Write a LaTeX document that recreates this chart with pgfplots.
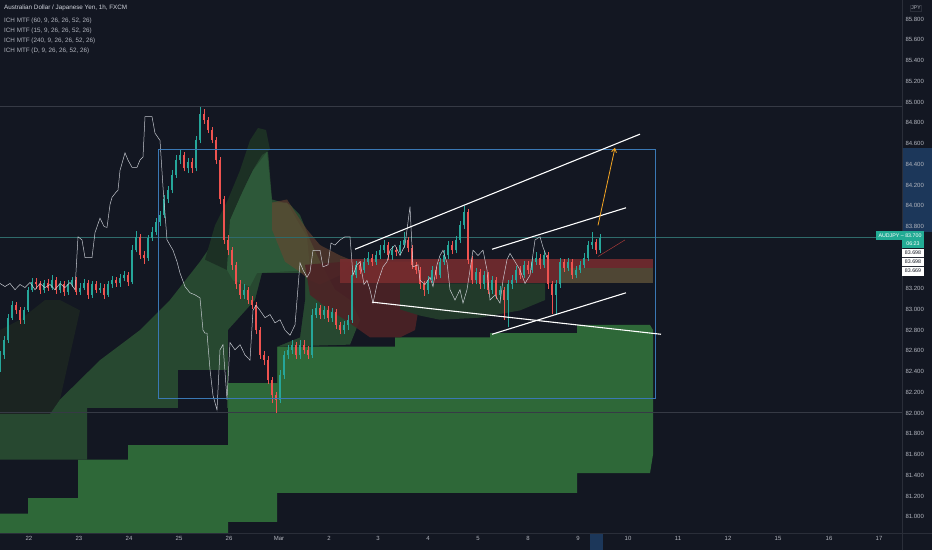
\documentclass[border=0pt]{standalone}
\usepackage{pgfplots}
\pgfplotsset{compat=1.18}
\usepackage{pgfplotstable}
\usepackage{fontspec}
\setmainfont{Liberation Sans}
\usetikzlibrary{arrows.meta}

\definecolor{bgc}{RGB}{19,23,34}
\definecolor{sepc}{RGB}{42,46,57}
\definecolor{labc}{RGB}{178,181,190}
\definecolor{txtc}{RGB}{209,212,220}
\definecolor{upc}{RGB}{38,166,154}
\definecolor{dnc}{RGB}{239,83,80}
\definecolor{gridc}{RGB}{54,58,69}
\definecolor{wline}{RGB}{215,218,225}
\definecolor{rectc}{RGB}{58,120,180}
\definecolor{orc}{RGB}{245,166,35}
\definecolor{hlc}{RGB}{28,55,90}
\definecolor{boxg}{RGB}{34,171,148}
\definecolor{gbright}{RGB}{46,104,56}
\definecolor{gmed}{RGB}{39,72,48}
\definecolor{glight}{RGB}{45,88,57}
\definecolor{gdark}{RGB}{28,48,36}
\definecolor{gleft}{RGB}{27,36,33}
\definecolor{brownc}{RGB}{106,69,48}
\definecolor{redblob}{RGB}{77,35,38}
\definecolor{redband}{RGB}{122,45,47}
\definecolor{gband}{RGB}{61,90,58}
\definecolor{gunder}{RGB}{34,58,42}

% up candles: x open high low close
\pgfplotstableread{
x o h l c
0 82.45 82.60 82.40 82.56
4 82.56 82.74 82.52 82.70
8 82.70 82.96 82.68 82.92
12 82.92 83.08 82.90 83.04
24 82.90 83.02 82.86 82.99
28 82.99 83.22 82.97 83.19
32 83.19 83.30 83.17 83.26
44 83.19 83.28 83.16 83.25
52 83.21 83.33 83.19 83.28
60 83.19 83.27 83.16 83.24
68 83.17 83.28 83.14 83.24
72 83.24 83.31 83.22 83.28
80 83.17 83.25 83.14 83.21
84 83.21 83.29 83.19 83.25
92 83.14 83.27 83.11 83.24
100 83.19 83.25 83.16 83.21
108 83.14 83.27 83.12 83.24
112 83.24 83.32 83.21 83.28
120 83.25 83.34 83.22 83.30
124 83.30 83.37 83.27 83.33
132 83.26 83.62 83.24 83.57
136 83.57 83.76 83.55 83.70
148 83.50 83.72 83.47 83.69
152 83.69 83.79 83.66 83.75
156 83.75 83.88 83.72 83.84
160 83.84 83.95 83.80 83.91
164 83.91 84.10 83.88 84.06
168 84.06 84.19 84.03 84.15
172 84.15 84.34 84.12 84.30
176 84.30 84.49 84.27 84.44
180 84.44 84.54 84.40 84.49
188 84.36 84.46 84.32 84.42
196 84.36 84.67 84.33 84.63
200 84.63 84.95 84.60 84.88
244 83.14 83.24 83.10 83.19
280 82.13 82.42 82.10 82.37
284 82.37 82.60 82.33 82.56
288 82.56 82.66 82.52 82.61
292 82.61 82.70 82.57 82.66
300 82.56 82.70 82.52 82.66
312 82.56 83.00 82.53 82.95
316 82.95 83.06 82.92 83.01
324 82.95 83.03 82.91 82.99
332 82.92 83.01 82.88 82.97
344 82.80 82.89 82.76 82.85
348 82.85 82.95 82.80 82.90
352 82.90 83.38 82.87 83.33
356 83.33 83.47 83.30 83.43
364 83.38 83.50 83.35 83.46
368 83.46 83.55 83.43 83.50
376 83.46 83.56 83.43 83.52
380 83.52 83.62 83.49 83.57
384 83.57 83.67 83.54 83.62
392 83.52 83.61 83.48 83.57
400 83.55 83.66 83.52 83.62
404 83.62 83.75 83.59 83.67
428 83.19 83.32 83.15 83.28
432 83.28 83.42 83.25 83.38
440 83.33 83.50 83.30 83.46
444 83.46 83.57 83.43 83.52
448 83.52 83.66 83.49 83.62
456 83.57 83.71 83.54 83.67
460 83.67 83.85 83.64 83.81
464 83.81 84.00 83.78 83.94
476 83.28 83.40 83.24 83.36
484 83.24 83.37 83.20 83.33
492 83.19 83.32 83.15 83.28
500 83.14 83.23 83.10 83.19
508 83.09 83.28 82.83 83.24
512 83.24 83.33 83.20 83.28
516 83.28 83.42 83.25 83.38
524 83.33 83.47 83.30 83.43
532 83.38 83.50 83.35 83.46
536 83.46 83.55 83.43 83.50
544 83.43 83.56 83.40 83.52
556 83.14 83.28 82.96 83.24
560 83.24 83.50 83.21 83.46
568 83.40 83.50 83.37 83.46
576 83.33 83.42 83.30 83.38
580 83.38 83.47 83.35 83.43
584 83.43 83.54 83.40 83.50
588 83.50 83.66 83.47 83.62
592 83.62 83.75 83.58 83.65
600 83.57 83.73 83.54 83.69
}\upcandles

% down candles: x open high low close
\pgfplotstableread{
x o h l c
16 83.04 83.07 82.96 82.99
20 82.99 83.02 82.86 82.90
36 83.26 83.30 83.20 83.24
40 83.24 83.27 83.15 83.19
48 83.25 83.29 83.18 83.21
56 83.28 83.31 83.15 83.19
64 83.24 83.27 83.13 83.17
76 83.28 83.31 83.14 83.17
88 83.25 83.28 83.10 83.14
96 83.24 83.27 83.16 83.19
104 83.21 83.24 83.10 83.14
116 83.28 83.31 83.22 83.25
128 83.33 83.36 83.23 83.26
140 83.70 83.73 83.49 83.52
144 83.52 83.56 83.44 83.50
184 84.49 84.52 84.33 84.36
192 84.42 84.46 84.32 84.36
204 84.88 84.93 84.79 84.83
208 84.83 84.86 84.70 84.73
212 84.73 84.76 84.60 84.63
216 84.63 84.66 84.40 84.44
220 84.44 84.47 84.02 84.06
224 84.06 84.09 83.63 83.67
228 83.67 83.72 83.52 83.57
232 83.57 83.60 83.38 83.43
236 83.43 83.46 83.20 83.24
240 83.24 83.28 83.10 83.14
248 83.19 83.22 83.05 83.09
252 83.09 83.13 83.00 83.04
256 83.04 83.07 82.76 82.80
260 82.80 82.83 82.52 82.56
264 82.56 82.60 82.46 82.51
268 82.51 82.55 82.28 82.32
272 82.32 82.35 82.10 82.17
276 82.17 82.20 82.00 82.13
296 82.66 82.69 82.52 82.56
304 82.66 82.70 82.57 82.61
308 82.61 82.65 82.52 82.56
320 83.01 83.04 82.91 82.95
328 82.99 83.03 82.88 82.92
336 82.97 83.00 82.81 82.85
340 82.85 82.88 82.76 82.80
360 83.43 83.47 83.34 83.38
372 83.50 83.53 83.42 83.46
388 83.62 83.65 83.48 83.52
396 83.57 83.60 83.51 83.55
408 83.67 83.70 83.55 83.59
412 83.59 83.62 83.39 83.43
416 83.43 83.46 83.34 83.38
420 83.38 83.41 83.20 83.24
424 83.24 83.27 83.13 83.19
436 83.38 83.41 83.29 83.33
452 83.62 83.66 83.53 83.57
468 83.94 83.97 83.44 83.48
472 83.48 83.51 83.24 83.28
480 83.36 83.39 83.20 83.24
488 83.33 83.36 83.15 83.19
496 83.28 83.31 83.10 83.14
504 83.19 83.22 82.90 83.09
520 83.38 83.42 83.29 83.33
528 83.43 83.47 83.34 83.38
540 83.50 83.53 83.39 83.43
548 83.52 83.55 83.20 83.24
552 83.24 83.27 82.96 83.14
564 83.46 83.49 83.36 83.40
572 83.46 83.49 83.29 83.33
596 83.65 83.68 83.53 83.57
}\dncandles

\begin{document}
\begin{tikzpicture}
\fill[bgc] (0pt,-17pt) rectangle (932pt,533pt);
\fill[hlc] (902pt,301pt) rectangle (932pt,385pt);
\fill[hlc] (590pt,-17pt) rectangle (603pt,0pt);

\begin{axis}[
  at={(0pt,0pt)}, anchor=south west,
  width=902pt, height=533pt, scale only axis,
  xmin=0, xmax=902, ymin=80.843, ymax=85.984,
  axis line style={draw=none},
  tick style={draw=none},
  major tick length=0pt,
  ytick pos=right, yticklabel pos=right,
  xtick={29,79,129,179,229,279,329,378,428,478,528,578,628,678,728,778,829,879},
  xticklabels={22,23,24,25,26,Mar,2,3,4,5,8,9,10,11,12,15,16,17},
  ytick={81.0,81.2,81.4,81.6,81.8,82.0,82.2,82.4,82.6,82.8,83.0,83.2,83.8,84.0,84.2,84.4,84.6,84.8,85.0,85.2,85.4,85.6,85.8},
  yticklabel style={/pgf/number format/.cd, fixed, fixed zerofill, precision=3},
  /pgf/number format/assume math mode=true,
  tick label style={font=\fontsize{6}{7}\selectfont, text=labc},
  clip=true,
]
% faint left cloud
\addplot[forget plot, fill=gleft, draw=none] coordinates {
 (0,82.80)(20,82.90)(45,83.09)(60,83.09)(80,82.99)(60,82.13)(50,81.99)(0,81.99)};
% daily cloud (bright green)
\addplot[forget plot, fill=gbright, draw=none] coordinates {
 (0,81.03)(28,81.03)(28,81.18)(78,81.18)(78,81.55)(128,81.55)(128,81.69)(228,81.69)
 (228,82.29)(277,82.29)(277,82.64)(395,82.64)(395,82.73)(490,82.73)(490,82.77)
 (577,82.77)(577,82.85)(650,82.85)(653,82.80)(653,81.60)(650,81.42)(577,81.42)
 (577,81.23)(277,81.23)(277,80.95)(228,80.95)(228,80.84)(0,80.84)};
% medium green cloud
\addplot[forget plot, fill=gmed, draw=none] coordinates {
 (0,81.99)(50,81.99)(60,82.13)(100,82.51)(140,82.80)(170,83.09)(200,83.46)
 (225,83.81)(240,84.10)(255,84.39)(262,84.54)(268,84.52)(272,84.06)(290,84.01)
 (300,83.91)(310,83.67)(320,83.46)(335,83.19)(350,83.09)(360,82.90)(350,82.66)
 (277,82.64)(277,82.29)(228,82.29)(228,82.05)(87,82.05)(87,81.55)(0,81.55)};
% dark pockets
\addplot[forget plot, fill=bgc, draw=none] coordinates {
 (178,82.42)(227,82.42)(227,82.05)(178,82.05)};
\addplot[forget plot, fill=bgc, draw=none] coordinates {
 (228,82.80)(255,83.09)(262,83.35)(305,83.35)(305,83.09)(300,82.73)(277,82.64)(277,82.29)(228,82.29)};
% dark green tip
\addplot[forget plot, fill=gdark, draw=none] coordinates {
 (205,83.48)(215,83.81)(228,84.06)(240,84.34)(250,84.63)(258,84.75)(266,84.73)
 (270,84.54)(262,84.49)(250,84.30)(240,84.08)(230,83.86)(227,83.38)};
% lighter mountain
\addplot[forget plot, fill=glight, draw=none] coordinates {
 (227,83.38)(230,83.86)(240,84.08)(253,84.34)(267,84.52)(272,84.03)(287,84.03)
 (297,83.86)(307,83.70)(310,83.38)(257,83.35)(250,83.22)(233,83.28)};
% brownish overlap
\addplot[forget plot, fill=brownc, fill opacity=0.6, draw=none] coordinates {
 (272,84.03)(287,84.06)(297,83.91)(307,83.77)(320,83.62)(340,83.52)(355,83.46)
 (340,83.33)(320,83.24)(310,83.28)(300,83.36)(285,83.46)(272,83.77)};
% dark red blob
\addplot[forget plot, fill=redblob, fill opacity=0.9, draw=none] coordinates {
 (305,83.43)(345,83.46)(420,83.46)(420,83.09)(415,82.80)(400,82.73)(370,82.73)
 (345,82.90)(330,82.99)(310,83.14)};
% green below band
\addplot[forget plot, fill=gunder, draw=none] coordinates {
 (400,83.25)(545,83.25)(545,83.09)(520,82.99)(480,82.92)(440,82.90)(420,82.94)(400,83.00)};
% red band
\addplot[forget plot, fill=redband, fill opacity=0.85, draw=none] coordinates {
 (340,83.49)(653,83.49)(653,83.25)(340,83.25)};
\addplot[forget plot, fill=gband, fill opacity=0.6, draw=none] coordinates {
 (560,83.40)(653,83.40)(653,83.25)(560,83.25)};

% horizontal lines
\draw[gridc, line width=0.5pt] (axis cs:0,84.96) -- (axis cs:902,84.96);
\draw[gridc, line width=0.5pt] (axis cs:0,82.01) -- (axis cs:902,82.01);
\draw[upc!45!gridc, line width=0.4pt] (axis cs:0,83.70) -- (axis cs:902,83.70);

% candle wicks
\addplot[forget plot, draw=none, mark=none,
  error bars/.cd, y dir=plus, y explicit, error mark=none,
  error bar style={line width=0.6pt, draw=upc}]
  table[x=x, y=l, y error plus expr=\thisrow{h}-\thisrow{l}] {\upcandles};
\addplot[forget plot, draw=none, mark=none,
  error bars/.cd, y dir=plus, y explicit, error mark=none,
  error bar style={line width=0.6pt, draw=dnc}]
  table[x=x, y=l, y error plus expr=\thisrow{h}-\thisrow{l}] {\dncandles};
% candle bodies
\addplot[forget plot, draw=none, mark=none,
  error bars/.cd, y dir=plus, y explicit, error mark=none,
  error bar style={line width=2.8pt, draw=upc}]
  table[x=x, y=o, y error plus expr=\thisrow{c}-\thisrow{o}] {\upcandles};
\addplot[forget plot, draw=none, mark=none,
  error bars/.cd, y dir=plus, y explicit, error mark=none,
  error bar style={line width=2.8pt, draw=dnc}]
  table[x=x, y=c, y error plus expr=\thisrow{o}-\thisrow{c}] {\dncandles};

% lagging line
\addplot[forget plot, wline, line width=0.5pt, opacity=0.9, mark=none] coordinates {
(0,83.25)(5,83.22)(10,83.25)(15,83.19)(20,83.24)(25,83.21)(30,83.26)(35,83.19)(40,83.25)
(45,83.21)(50,83.24)(55,83.19)(60,83.25)(65,83.21)(70,83.26)(75,83.19)(78,83.70)(82,83.67)
(85,83.50)(92,83.50)(95,83.74)(100,83.88)(104,83.80)(107,83.79)(110,84.01)(112,84.08)
(116,84.13)(118,84.15)(120,84.34)(125,84.51)(128,84.44)(132,84.37)(137,84.37)(140,84.44)
(143,84.47)(145,84.86)(152,84.86)(155,84.70)(160,84.63)(163,84.18)(167,83.67)(170,83.62)
(173,83.57)(177,83.46)(180,83.35)(185,83.22)(190,83.16)(195,83.14)(200,83.11)(203,82.80)
(205,82.77)(207,82.77)(210,82.42)(213,82.17)(217,82.03)(220,82.61)(223,82.66)(227,82.13)
(230,82.68)(235,82.61)(240,82.66)(245,82.56)(250,82.51)(253,82.99)(256,83.04)(260,82.99)
(265,82.92)(270,82.95)(275,82.87)(280,82.90)(285,82.80)(290,82.75)(295,82.85)(300,83.45)
(303,83.38)(307,83.31)(310,83.36)(313,83.57)(320,83.57)(323,83.41)(328,83.43)(331,83.64)
(335,83.62)(340,83.67)(345,83.70)(350,83.70)(353,83.33)(357,83.43)(360,83.46)(364,83.24)
(367,83.28)(370,83.19)(373,83.06)(377,83.24)(383,83.41)(387,83.46)(390,83.57)(395,83.62)
(400,83.52)(405,83.62)(410,83.99)(413,83.41)(418,83.43)(420,83.28)(425,83.24)(430,83.31)
(433,83.22)(437,83.43)(440,83.52)(443,83.57)(447,83.45)(450,83.19)(455,83.09)(460,83.19)
(463,83.06)(467,83.19)(470,83.38)(473,83.57)(478,83.52)(483,83.57)(487,83.38)(490,83.09)
(495,83.14)(500,83.06)(503,83.28)(507,83.48)(510,83.54)(515,83.46)(520,83.38)(525,83.25)
(530,83.33)(535,83.67)(540,83.70)(543,83.60)(547,83.50)};

% drawings
\draw[rectc, line width=0.7pt] (axis cs:158,84.54) rectangle (axis cs:655,82.14);
\draw[white, line width=1.1pt] (axis cs:355,83.58) -- (axis cs:640,84.69);
\draw[white, line width=1.1pt] (axis cs:492,83.58) -- (axis cs:626,83.98);
\draw[white, line width=1.1pt] (axis cs:492,82.76) -- (axis cs:626,83.16);
\draw[white, line width=1.1pt] (axis cs:372,83.07) -- (axis cs:661,82.76);
\draw[orc, line width=0.8pt, -{Straight Barb[length=4pt,width=5pt]}] (axis cs:598,83.81) -- (axis cs:615,84.56);
\draw[dnc!70!black, line width=0.5pt] (axis cs:598,83.51) -- (axis cs:625,83.67);
\end{axis}

% separators
\draw[sepc, line width=0.6pt] (902pt,-17pt) -- (902pt,533pt);
\draw[sepc, line width=0.6pt] (0pt,0pt) -- (932pt,0pt);

% legend text
\begin{scope}[every node/.style={anchor=west, inner sep=0pt, font=\fontsize{6.3}{7}\selectfont}]
\node[text=txtc] at (4pt,525pt) {Australian Dollar / Japanese Yen, 1h, FXCM};
\node[text=labc] at (4pt,512.5pt) {ICH MTF (60, 9, 26, 26, 52, 26)};
\node[text=labc] at (4pt,502.5pt) {ICH MTF (15, 9, 26, 26, 52, 26)};
\node[text=labc] at (4pt,492.5pt) {ICH MTF (240, 9, 26, 26, 52, 26)};
\node[text=labc] at (4pt,482.5pt) {ICH MTF (D, 9, 26, 26, 52, 26)};
\end{scope}

% JPY
\node[draw=sepc, text=labc, inner sep=1pt, font=\fontsize{5}{6}\selectfont] at (916pt,525pt) {JPY};

% price labels
\fill[boxg] (876pt,293pt) rectangle (924pt,302pt);
\fill[boxg] (902pt,285pt) rectangle (924pt,293pt);
\node[text=white, font=\fontsize{5.3}{6}\selectfont, inner sep=0pt] at (900pt,297.5pt) {AUDJPY – 83.700};
\node[text=white, font=\fontsize{5.3}{6}\selectfont, inner sep=0pt] at (913pt,289pt) {06:23};
\fill[white] (902pt,257pt) rectangle (924pt,284pt);
\draw[sepc, line width=0.4pt] (902pt,275.5pt) -- (924pt,275.5pt);
\draw[sepc, line width=0.4pt] (902pt,266.5pt) -- (924pt,266.5pt);
\node[text=bgc, font=\fontsize{5.3}{6}\selectfont, inner sep=0pt] at (913pt,280pt) {83.698};
\node[text=bgc, font=\fontsize{5.3}{6}\selectfont, inner sep=0pt] at (913pt,271pt) {83.698};
\node[text=bgc, font=\fontsize{5.3}{6}\selectfont, inner sep=0pt] at (913pt,262pt) {83.669};

\pgfresetboundingbox
\path[use as bounding box] (0pt,-17pt) rectangle (932pt,533pt);
\end{tikzpicture}
\end{document}
